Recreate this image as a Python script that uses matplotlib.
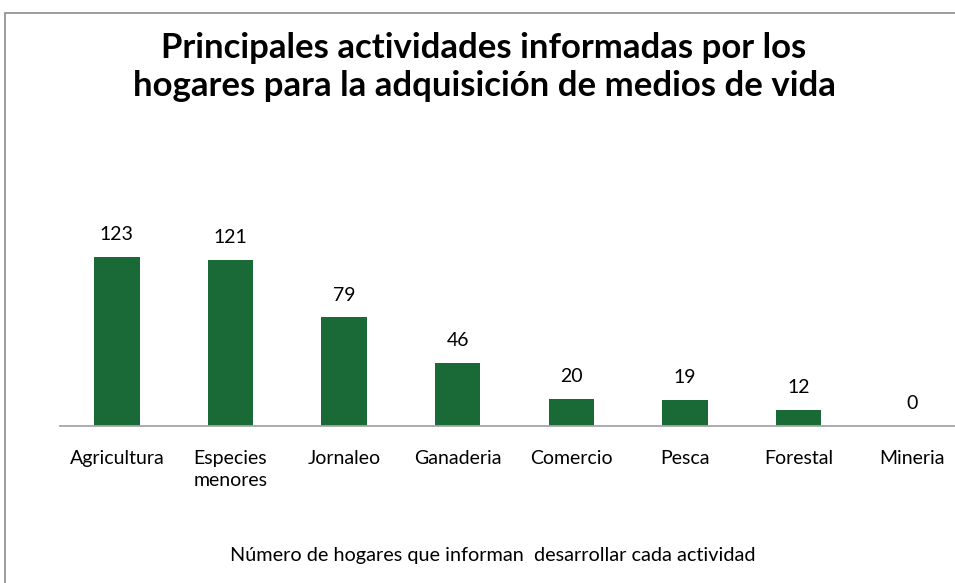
import matplotlib
matplotlib.use("Agg")
import matplotlib.pyplot as plt
from matplotlib.patches import Rectangle

categorias = ["Agricultura", "Especies\nmenores", "Jornaleo", "Ganaderia",
              "Comercio", "Pesca", "Forestal", "Mineria"]
hogares = [123, 121, 79, 46, 20, 19, 12, 0]

titulo = "Principales actividades informadas por los\nhogares para la adquisición de medios de vida"
eje_x = "Número de hogares que informan  desarrollar cada actividad"

plt.rcParams['font.family'] = ['Lato', 'DejaVu Sans']

fig = plt.figure(figsize=(9.55, 5.83), dpi=100)
W, H = 955, 583

# marco del grafico (se sale por la derecha y por abajo)
fig.patches.append(Rectangle((5 / W, -0.1), 1.2, (H - 13) / H + 0.1,
                             transform=fig.transFigure, fill=False,
                             edgecolor="#8c8c8c", linewidth=1.2))

left, right = 60, 969
base, top = 426, 200
ax = fig.add_axes([left / W, 1 - base / H, (right - left) / W, (base - top) / H])

x = list(range(len(categorias)))
bars = ax.bar(x, hogares, width=0.4, color="#196a37")
ax.set_xlim(-0.5, len(categorias) - 0.5)
ax.set_ylim(0, 123 * (base - top) / (base - 257))

for b, v in zip(bars, hogares):
    ax.annotate(str(v), (b.get_x() + b.get_width() / 2, v), xytext=(0, 10),
                textcoords="offset points", ha="center", va="bottom", fontsize=14)

ax.set_xticks(x)
ax.set_xticklabels(categorias, fontsize=14, linespacing=1.42, va="top",
                   multialignment="center")
ax.tick_params(axis="x", length=0, pad=17)
ax.set_yticks([])
for s in ["top", "right", "left"]:
    ax.spines[s].set_visible(False)
ax.spines["bottom"].set_color("#a6a6a6")
ax.spines["bottom"].set_linewidth(1.3)
ax.patch.set_alpha(0)

fig.text(484 / W, 1 - 67 / H, titulo, ha="center", va="center",
         fontsize=25, fontweight="bold", linespacing=1.2)
fig.text(493 / W, 1 - 556 / H, eje_x, ha="center", va="center", fontsize=14.3)

fig.savefig("out.png", dpi=100)
